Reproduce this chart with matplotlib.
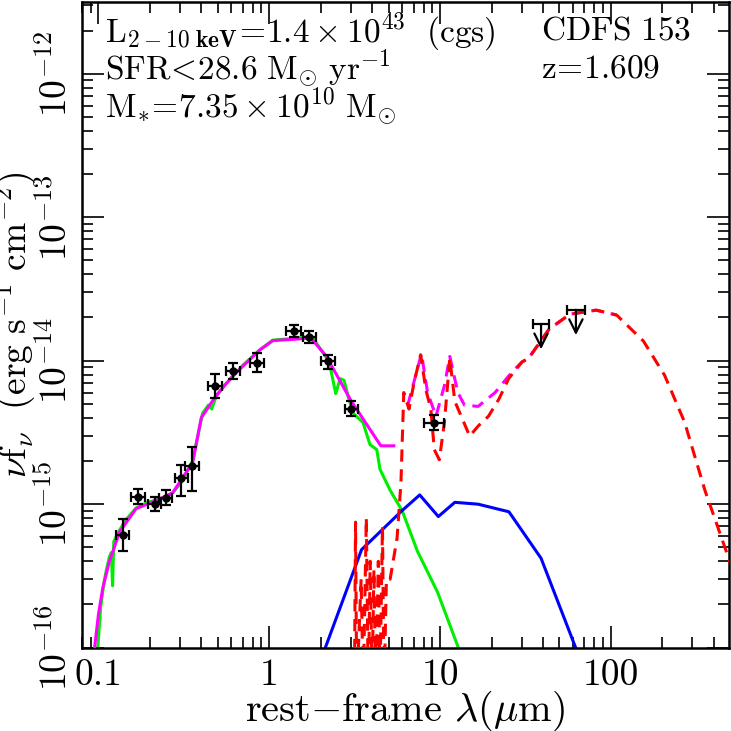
import numpy as np
import matplotlib
matplotlib.use("Agg")
import matplotlib.pyplot as plt

plt.rcParams['font.family'] = 'serif'
plt.rcParams['font.serif'] = ['cmr10']
plt.rcParams['mathtext.fontset'] = 'cm'
plt.rcParams['axes.unicode_minus'] = False
plt.rcParams['axes.formatter.use_mathtext'] = True

# photometry (rest-frame um, nu f_nu in erg/s/cm2)
phot_x = [0.139, 0.171, 0.213, 0.247, 0.306, 0.351, 0.481, 0.614, 0.848, 1.387, 1.72, 2.2, 3.03, 9.26]
phot_y = [6.1e-16, 1.13e-15, 1.0e-15, 1.11e-15, 1.52e-15, 1.86e-15, 6.7e-15, 8.45e-15, 9.7e-15,
          1.61e-14, 1.46e-14, 9.87e-15, 4.6e-15, 3.7e-15]
phot_ylo = [4.7e-16, 1.01e-15, 0.89e-15, 0.98e-15, 1.14e-15, 1.23e-15, 5.5e-15, 7.4e-15, 8.3e-15,
            1.46e-14, 1.33e-14, 8.8e-15, 4.1e-15, 3.3e-15]
phot_yhi = [7.9e-16, 1.27e-15, 1.12e-15, 1.26e-15, 1.87e-15, 2.5e-15, 8.1e-15, 9.6e-15, 1.14e-14,
            1.77e-14, 1.6e-14, 1.1e-14, 5.2e-15, 4.2e-15]
phot_xlo = [0.126, 0.156, 0.194, 0.225, 0.279, 0.32, 0.438, 0.559, 0.772, 1.25, 1.57, 2.0, 2.76, 8.05]
phot_xhi = [0.152, 0.188, 0.234, 0.271, 0.336, 0.386, 0.528, 0.674, 0.93, 1.54, 1.89, 2.42, 3.33, 10.6]

# upper limits
ul_x = [39.0, 62.4]
ul_y = [1.8e-14, 2.26e-14]
ul_xlo = [34.8, 55.4]
ul_xhi = [43.7, 70.3]

# stellar template (green)
star_x = [0.0985, 0.103, 0.108, 0.112, 0.116, 0.119, 0.121, 0.123, 0.133, 0.145, 0.166, 0.19, 0.217,
          0.25, 0.272, 0.31, 0.356, 0.38, 0.407, 0.44, 0.46, 0.488, 0.55, 0.61, 0.7, 0.874, 1.045,
          1.3, 1.6, 1.79, 2.0, 2.15, 2.3, 2.45, 2.6, 2.74, 2.9, 3.1, 3.54, 3.89, 4.26, 4.45, 5.1,
          6.0, 7.37, 9.66, 13.0]
star_y = [9e-17, 1.9e-16, 2.9e-16, 3.6e-16, 4.3e-16, 4.6e-16, 2.7e-16, 5.5e-16, 6.6e-16, 7.8e-16,
          9.4e-16, 1.02e-15, 1.07e-15, 1.12e-15, 1.2e-15, 1.45e-15, 2.0e-15, 2.9e-15, 4.3e-15,
          4.9e-15, 4.6e-15, 5.6e-15, 6.8e-15, 7.7e-15, 9.3e-15, 1.18e-14, 1.39e-14, 1.42e-14,
          1.46e-14, 1.46e-14, 1.2e-14, 1.06e-14, 8.5e-15, 5.9e-15, 7.5e-15, 7.3e-15, 5.6e-15,
          4.3e-15, 3.7e-15, 2.6e-15, 2.4e-15, 1.75e-15, 1.25e-15, 9.0e-16, 4.7e-16, 2.44e-16, 9.5e-17]

# total model, optical part (magenta solid)
tot_x = [0.094, 0.10, 0.106, 0.116, 0.133, 0.166, 0.217, 0.272, 0.356, 0.40, 0.488, 0.61, 0.874,
         1.05, 1.4, 1.75, 2.15, 3.0, 4.5, 5.36]
tot_y = [9e-17, 1.7e-16, 2.6e-16, 4.0e-16, 6.4e-16, 9.3e-16, 1.06e-15, 1.2e-15, 1.95e-15, 4.0e-15,
         5.7e-15, 7.8e-15, 1.18e-14, 1.38e-14, 1.41e-14, 1.44e-14, 1.08e-14, 5.3e-15, 2.55e-15, 2.55e-15]

# total model, IR part (magenta dashed)
totir_x = [6.47, 7.2, 7.78, 8.45, 9.46, 10.6, 11.4, 12.7, 13.9, 16.7, 21.0, 26.5, 30.2, 33.0,
           43.5, 57.6, 82.0, 108.0]
totir_y = [4.9e-15, 7.9e-15, 1.12e-14, 6.0e-15, 4.1e-15, 6.7e-15, 1.07e-14, 6.0e-15, 4.9e-15,
           4.8e-15, 6.0e-15, 8.4e-15, 9.8e-15, 1.04e-14, 1.66e-14, 2.11e-14, 2.25e-14, 2.08e-14]

# star-forming template (red dashed)
sf_x = [3.15, 3.2, 3.25, 3.45, 3.55, 3.7, 3.8, 3.9, 4.0, 4.1, 4.2, 4.35, 4.45, 4.6, 4.7, 4.85,
        5.1, 5.6, 5.9, 6.13, 6.58, 7.05, 7.7, 8.25, 8.83, 9.25, 9.9, 10.6, 11.4, 12.2, 13.3,
        14.9, 16.7, 19.2, 22.1, 25.2, 30.2, 33.0, 43.5, 57.6, 82.0, 108.0, 155.0, 206.0, 270.0,
        355.0, 500.0]
sf_y = [5e-17, 7.5e-16, 5e-17, 3e-16, 5e-17, 8e-16, 5e-17, 4e-16, 6e-17, 3.5e-16, 5e-17, 4e-16,
        6e-17, 7e-16, 5e-17, 3e-16, 3.0e-16, 5.8e-16, 1.4e-15, 6.0e-15, 4.6e-15, 7.1e-15, 1.1e-14,
        6.3e-15, 4.6e-15, 2.4e-15, 2.04e-15, 3.7e-15, 1.04e-14, 5.2e-15, 4.1e-15, 2.98e-15,
        3.5e-15, 4.1e-15, 5.4e-15, 7.5e-15, 9.8e-15, 1.04e-14, 1.66e-14, 2.11e-14, 2.25e-14,
        2.08e-14, 1.37e-14, 7.93e-15, 3.73e-15, 1.25e-15, 3.9e-16]

# AGN template (blue)
agn_x = [2.13, 3.47, 5.98, 7.6, 9.77, 12.2, 16.7, 25.3, 39.0, 63.0]
agn_y = [1e-16, 4.82e-16, 9.0e-16, 1.16e-15, 8.2e-16, 1.03e-15, 1.0e-15, 8.85e-16, 4.2e-16, 9.6e-17]

fig = plt.figure(figsize=(7.31, 7.31), dpi=100)
ax = fig.add_axes([0.112, 0.114, 0.885, 0.883])

ax.plot(star_x, star_y, color='#00ee00', lw=2.2, zorder=2)
ax.plot(tot_x, tot_y, color='#ff00ff', lw=2.2, zorder=3)
ax.plot(totir_x, totir_y, color='#ff00ff', lw=2.2, dashes=(4, 2.5), zorder=3)
ax.plot(sf_x, sf_y, color='#ff0000', lw=2.2, dashes=(4, 2.5), zorder=4)
ax.plot(agn_x, agn_y, color='#0000ff', lw=2.2, zorder=2)

px = np.array(phot_x)
py = np.array(phot_y)
yerr = [py - np.array(phot_ylo), np.array(phot_yhi) - py]
xerr = [px - np.array(phot_xlo), np.array(phot_xhi) - px]
ax.errorbar(px, py, xerr=xerr, yerr=yerr, fmt='o', color='k', ms=5, elinewidth=1.6,
            capsize=3.5, capthick=1.6, zorder=6)

ux = np.array(ul_x)
uy = np.array(ul_y)
ax.errorbar(ux, uy, xerr=[ux - np.array(ul_xlo), np.array(ul_xhi) - ux], fmt='none',
            ecolor='k', elinewidth=1.6, capsize=3.5, capthick=1.6, zorder=6)
for x, y in zip(ul_x, ul_y):
    ax.annotate('', xy=(x, y / 1.5), xytext=(x, y),
                arrowprops=dict(arrowstyle='->', lw=1.6, color='k', mutation_scale=24,
                                shrinkA=0, shrinkB=0), zorder=6)

ax.set_xscale('log')
ax.set_yscale('log')
ax.set_xlim(0.08, 490)
ax.set_ylim(1e-16, 3.15e-12)
ax.set_xticks([0.1, 1, 10, 100])
ax.set_xticklabels(['0.1', '1', '10', '100'])

ax.tick_params(which='both', direction='in', top=True, right=True, labelsize=27)
ax.tick_params(which='major', length=16, width=1.2)
ax.tick_params(which='minor', length=8, width=1.2)
ax.tick_params(axis='x', pad=8)
ax.tick_params(axis='y', pad=6, labelrotation=90)
for lab in ax.get_yticklabels():
    lab.set_va('center')
for s in ax.spines.values():
    s.set_linewidth(1.8)

ax.set_xlabel(r'rest$-$frame $\lambda$($\mu$m)', fontsize=29)
ax.xaxis.set_label_coords(0.5, -0.064)
ax.set_ylabel(r'$\nu\mathrm{f}_\nu\ \ (\mathrm{erg\ s^{-1}\ cm^{-2}})$', fontsize=27)
ax.yaxis.set_label_coords(-0.066, 0.5)

fs = 24
ax.text(0.035, 0.955, r'$\mathrm{L_{\mathbf{2-10\ keV}}\!=\!1.4\times10^{43}\ \ (cgs)}$',
        transform=ax.transAxes, fontsize=fs, va='center')
ax.text(0.035, 0.897, r'$\mathrm{SFR\!<\!28.6\ M_{\odot}\ yr^{-1}}$', transform=ax.transAxes,
        fontsize=fs, va='center')
ax.text(0.035, 0.838, r'$\mathrm{M_{*}\!=\!7.35\times10^{10}\ M_{\odot}}$', transform=ax.transAxes,
        fontsize=fs, va='center')
ax.text(0.71, 0.955, r'$\mathrm{CDFS\ 153}$', transform=ax.transAxes, fontsize=fs, va='center')
ax.text(0.71, 0.897, r'$\mathrm{z\!=\!1.609}$', transform=ax.transAxes, fontsize=fs, va='center')

fig.savefig('out.png', dpi=100)
